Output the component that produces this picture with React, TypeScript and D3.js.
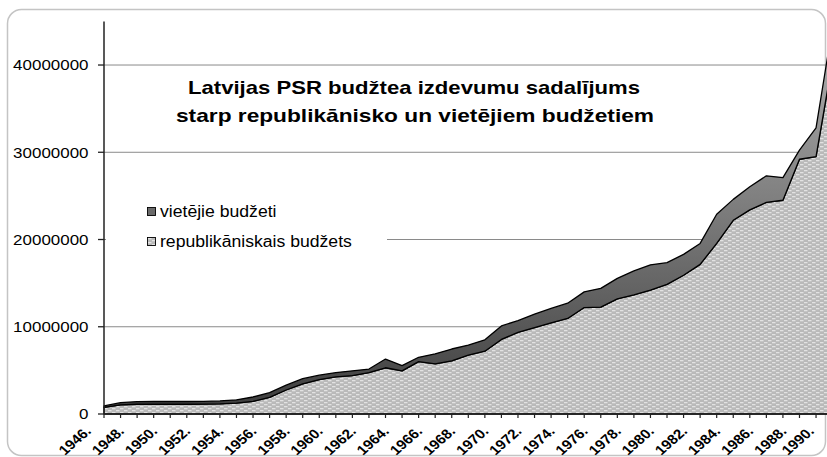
import React from "react";
import * as d3 from "d3";

// categories
const years = [
  1946, 1947, 1948, 1949, 1950, 1951, 1952, 1953, 1954, 1955,
  1956, 1957, 1958, 1959, 1960, 1961, 1962, 1963, 1964, 1965,
  1966, 1967, 1968, 1969, 1970, 1971, 1972, 1973, 1974, 1975,
  1976, 1977, 1978, 1979, 1980, 1981, 1982, 1983, 1984, 1985,
  1986, 1987, 1988, 1989, 1990,
];

// republikāniskais budžets (bottom layer)
const republikaniskais = [
  750000, 1050000, 1120000, 1120000, 1120000, 1120000, 1130000, 1160000, 1250000, 1450000,
  1900000, 2750000, 3450000, 3950000, 4250000, 4400000, 4750000, 5300000, 4950000, 6000000,
  5750000, 6100000, 6750000, 7200000, 8550000, 9350000, 9900000, 10450000, 10950000, 12200000,
  12250000, 13200000, 13650000, 14200000, 14850000, 15900000, 17150000, 19550000, 22200000, 23400000,
  24250000, 24500000, 29200000, 29500000, 40500000,
];

// vietējie budžeti (stacked on top)
const vietejie = [
  170000, 250000, 300000, 310000, 310000, 310000, 320000, 340000, 370000, 500000,
  550000, 550000, 600000, 500000, 500000, 550000, 400000, 1000000, 600000, 500000,
  1150000, 1350000, 1150000, 1300000, 1550000, 1350000, 1550000, 1650000, 1750000, 1800000,
  2150000, 2350000, 2750000, 2900000, 2500000, 2400000, 2400000, 3350000, 2400000, 2650000,
  3050000, 2600000, 1050000, 3300000, 4000000,
];

const yTicks = [0, 10000000, 20000000, 30000000, 40000000];
const legendLabels = ["vietējie budžeti", "republikāniskais budžets"];
const titleLines = [
  "Latvijas PSR budžtea izdevumu sadalījums",
  "starp republikānisko un vietējiem budžetiem",
];

const W = 827;
const H = 457;
const SX = 1.13; // the original picture is stretched a little sideways
const FONT = "'Liberation Sans', Arial, Helvetica, sans-serif";

export default function App() {
  const x = d3.scalePoint<number>().domain(years).range([104, 832.6]);
  const y = d3.scaleLinear().domain([0, 45000000]).range([414, 21.4]);

  const table = years.map((yr, i) => ({ year: yr, rep: republikaniskais[i], viet: vietejie[i] }));
  const stacked = d3.stack<any>().keys(["rep", "viet"])(table);

  const area = d3.area<any>()
    .x(d => x(d.data.year)!)
    .y0(d => y(d[0]))
    .y1(d => y(d[1]));

  return (
    <svg width={W} height={H} style={{ position: "absolute", left: 0, top: 0, display: "block" }}
      fontFamily={FONT}>
      <defs>
        <pattern id="dots" width="8" height="4" patternUnits="userSpaceOnUse">
          <rect width="8" height="4" fill="#b9b9b9" />
          <rect x="0" y="0" width="3.5" height="1.3" fill="#e2e2e2" />
          <rect x="4" y="2" width="3.5" height="1.3" fill="#e2e2e2" />
        </pattern>
        <linearGradient id="dark" gradientUnits="userSpaceOnUse" x1="0" y1="20" x2="0" y2="414">
          <stop offset="0" stopColor="#b4b4b4" />
          <stop offset="0.5" stopColor="#7a7a7a" />
          <stop offset="1" stopColor="#3c3c3c" />
        </linearGradient>
      </defs>

      <rect x={0} y={0} width={W} height={H} fill="#fff" />
      <rect x={7.5} y={9.5} width={818} height={446} rx={14} fill="#fff" stroke="#c4c4c4" strokeWidth={1.5} />

      {/* gridlines */}
      {yTicks.filter(t => t > 0).map(t => (
        <line key={t} x1={104} x2={826} y1={y(t)} y2={y(t)} stroke="#8a8a8a" strokeWidth={1} />
      ))}

      {/* areas */}
      <path d={area(stacked[0]) || ""} fill="url(#dots)" stroke="#000" strokeWidth={1.3} strokeLinejoin="round" />
      <path d={area(stacked[1]) || ""} fill="url(#dark)" stroke="#000" strokeWidth={1.3} strokeLinejoin="round" />

      {/* y axis */}
      <line x1={104} x2={104} y1={21.4} y2={414} stroke="#222" strokeWidth={1.5} />
      {yTicks.map(t => (
        <g key={t}>
          <line x1={98} x2={104} y1={y(t)} y2={y(t)} stroke="#222" strokeWidth={1.3} />
          <g transform={`translate(88.5,${y(t) + 5.4}) scale(${SX},1)`}>
            <text textAnchor="end" fontSize={15} fill="#000">{t}</text>
          </g>
        </g>
      ))}

      {/* x axis */}
      <line x1={104} x2={W} y1={414} y2={414} stroke="#222" strokeWidth={1.5} />
      {years.map(yr => (
        <line key={yr} x1={x(yr)} x2={x(yr)} y1={414} y2={418} stroke="#222" strokeWidth={1.2} />
      ))}
      {years.filter((yr, i) => i % 2 === 0).map(yr => (
        <g key={yr} transform={`translate(${Math.min(x(yr)! - 12, 815)},432) scale(${SX},1) rotate(-45)`}>
          <text textAnchor="end" fontSize={13.5} fontWeight="bold" fill="#000">{yr}.</text>
        </g>
      ))}

      {/* title */}
      <text x={414} y={94} textAnchor="middle" fontSize={18.5} fontWeight="bold" fill="#000"
        textLength={452} lengthAdjust="spacingAndGlyphs">{titleLines[0]}</text>
      <text x={415} y={122} textAnchor="middle" fontSize={18.5} fontWeight="bold" fill="#000"
        textLength={478} lengthAdjust="spacingAndGlyphs">{titleLines[1]}</text>

      {/* legend */}
      <rect x={106} y={196} width={281} height={64} fill="#fff" />
      <rect x={147.5} y={207.5} width={8} height={8} fill="#6a6a6a" stroke="#000" strokeWidth={0.9} />
      <g transform={`translate(160,216.5) scale(${SX},1)`}>
        <text fontSize={15.6} fill="#000">{legendLabels[0]}</text>
      </g>
      <rect x={147.5} y={237.5} width={8} height={8} fill="url(#dots)" stroke="#000" strokeWidth={0.9} />
      <g transform={`translate(160,246.5) scale(${SX},1)`}>
        <text fontSize={15.6} fill="#000">{legendLabels[1]}</text>
      </g>
    </svg>
  );
}
